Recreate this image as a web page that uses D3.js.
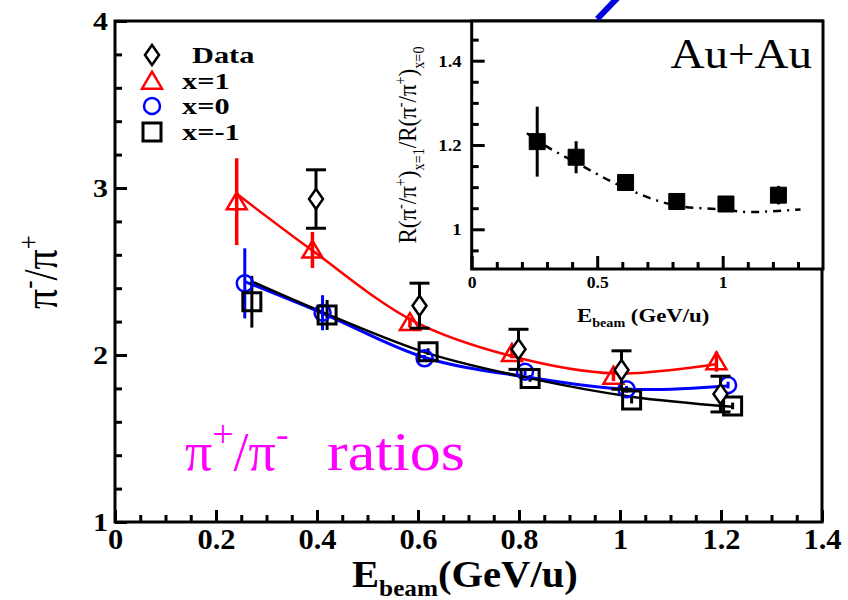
<!DOCTYPE html>
<html><head><meta charset="utf-8">
<script src="https://cdn.jsdelivr.net/npm/d3@7"></script>
<style>
body{margin:0;background:#fff}
svg{display:block}
text{font-family:"Liberation Serif","Times New Roman",serif}
</style>
</head><body><svg id="chart" width="848" height="600"></svg>
<script>
// ---- Main panel: pi-/pi+ ratio vs beam energy (GeV/u) ----
const dataE   = [0.398, 0.603, 0.799, 1.003, 1.199];
const dataR   = [2.934, 2.295, 2.034, 1.910, 1.766];
const dataErr = [0.175, 0.135, 0.120, 0.115, 0.107];

const x1E    = [0.241, 0.391, 0.584, 0.786, 0.987, 1.191];
const x1R    = [2.918, 2.629, 2.195, 2.010, 1.874, 1.960];
const x1Err  = [0.260, 0.108, 0.030, 0.030, 0.030, 0.060];
const x1FitE = [0.241, 0.391, 0.590, 0.790, 0.990, 1.190];
const x1FitR = [2.965, 2.625, 2.205, 1.990, 1.890, 1.945];

const x0E    = [0.257, 0.411, 0.613, 0.812, 1.013, 1.214];
const x0R    = [2.429, 2.253, 1.980, 1.900, 1.795, 1.820];
const x0Err  = [0.210, 0.105, 0.020, 0.020, 0.020, 0.020];
const x0FitR = [2.440, 2.250, 1.985, 1.870, 1.795, 1.815];

const xm1E    = [0.271, 0.420, 0.620, 0.822, 1.023, 1.223];
const xm1R    = [2.319, 2.240, 2.020, 1.860, 1.730, 1.695];
const xm1Err  = [0.155, 0.090, 0.020, 0.020, 0.020, 0.020];
const xm1FitR = [2.440, 2.245, 2.010, 1.860, 1.750, 1.690];

const legendNames = ["Data", "x=1", "x=0", "x=-1"];

const xTicks = [0, 0.2, 0.4, 0.6, 0.8, 1.0, 1.2, 1.4];
const xTickLabels = ["0", "0.2", "0.4", "0.6", "0.8", "1", "1.2", "1.4"];
const yTicks = [1, 2, 3, 4];
const yTickLabels = ["1", "2", "3", "4"];

// ---- Inset: double ratio R(x=1)/R(x=0) ----
const insetE   = [0.261, 0.416, 0.613, 0.817, 1.013, 1.222];
const insetR   = [1.208, 1.171, 1.111, 1.066, 1.060, 1.081];
const insetErr = [0.083, 0.038, 0.018, 0.020, 0.008, 0.022];
const insetFitE = [0.22, 0.30, 0.42, 0.60, 0.80, 1.00, 1.10, 1.20, 1.31];
const insetFitR = [1.228, 1.196, 1.157, 1.101, 1.058, 1.047, 1.041, 1.043, 1.047];

const insetXTicks = [0, 0.5, 1];
const insetXTickLabels = ["0", "0.5", "1"];
const insetYTicks = [1, 1.2, 1.4];
const insetYTickLabels = ["1", "1.2", "1.4"];

const range = (a, b, s) => d3.range(Math.round((b - a) / s) + 1).map(i => +(a + i * s).toFixed(4));

const svg = d3.select("#chart");
const RED = "#ff0000", BLUE = "#0000ff", BLACK = "#000", MAGENTA = "#ff00ff";

// scales
const x = d3.scaleLinear([0, 1.4], [115, 822]);
const y = d3.scaleLinear([1, 4], [522, 21]);
const xi = d3.scaleLinear([0, 1], [471.7, 722.7]);
const yi = d3.scaleLinear([1, 1.4], [229.3, 60.7]);

// rich text: parts = [[string, kind]] with kind undefined | "sup" | "sub"
function rich(t, parts, size, o) {
  let cur = 0;
  const supK = o.sup || 0.40, subK = o.sub || 0.30, small = o.small || 0.62;
  parts.forEach(([s, k]) => {
    const off = k === "sup" ? -supK * size : k === "sub" ? subK * size : 0;
    const fs = k ? size * small : size;
    t.append("tspan").attr("dy", off - cur).attr("font-size", fs).text(s);
    cur = off;
  });
  return t;
}
function label(g, px, py, parts, o) {
  const sx = o.sx || 1;
  const tr = `translate(${px},${py}) scale(${sx},1)` + (o.rotate ? " rotate(-90)" : "");
  const t = g.append("text").attr("transform", tr)
    .attr("font-size", o.size).attr("font-weight", o.weight || "normal")
    .attr("text-anchor", o.anchor || "start").attr("fill", o.fill || BLACK);
  return rich(t, parts, o.size, o);
}

// symbol shapes
const diamondType = { draw(ctx) { const w = 7, h = 10; ctx.moveTo(0, -h); ctx.lineTo(w, 0); ctx.lineTo(0, h); ctx.lineTo(-w, 0); ctx.closePath(); } };
const squareType = (a) => ({ draw(ctx) { ctx.rect(-a, -a, 2 * a, 2 * a); } });
const triType = { draw(ctx) { const w = 10, h = 17; ctx.moveTo(0, -h * 2 / 3 + 2); ctx.lineTo(w, h / 3 + 2); ctx.lineTo(-w, h / 3 + 2); ctx.closePath(); } };
const circleType = { draw(ctx) { ctx.moveTo(8, 0); ctx.arc(0, 0, 8, 0, 2 * Math.PI); } };

function axes(g, xs, ys, xt, xl, xminor, yt, yl, yminor, o) {
  const bx = d3.axisBottom(xs).tickValues(xt).tickFormat((d, i) => xl[i])
    .tickSizeInner(-o.major).tickSizeOuter(0).tickPadding(o.xpad);
  const gx = g.append("g").attr("transform", `translate(0,${o.bottom})`).call(bx);
  const bxm = d3.axisBottom(xs).tickValues(xminor).tickFormat("").tickSizeInner(-o.minor).tickSizeOuter(0);
  const gxm = g.append("g").attr("transform", `translate(0,${o.bottom})`).call(bxm);
  const ly = d3.axisLeft(ys).tickValues(yt).tickFormat((d, i) => yl[i])
    .tickSizeInner(-o.major).tickSizeOuter(0).tickPadding(o.ypad);
  const gy = g.append("g").attr("transform", `translate(${o.left},0)`).call(ly);
  const lym = d3.axisLeft(ys).tickValues(yminor).tickFormat("").tickSizeInner(-o.minor).tickSizeOuter(0);
  const gym = g.append("g").attr("transform", `translate(${o.left},0)`).call(lym);
  [gx, gxm, gy, gym].forEach(a => {
    a.select(".domain").remove();
    a.selectAll(".tick line").attr("stroke", BLACK).attr("stroke-width", o.tw);
  });
  gx.selectAll(".tick text").attr("font-size", o.xfs).attr("font-weight", "bold").attr("fill", BLACK)
    .attr("transform", `scale(${o.xsx},1)`);
  gy.selectAll(".tick text").attr("font-size", o.yfs).attr("font-weight", "bold").attr("fill", BLACK)
    .attr("x", -o.ypad / o.ysx).attr("transform", `scale(${o.ysx},1)`);
  g.append("rect").attr("x", o.left).attr("y", o.top).attr("width", o.right - o.left).attr("height", o.bottom - o.top)
    .attr("fill", "none").attr("stroke", BLACK).attr("stroke-width", 3);
}

// ---------- main panel ----------
const main = svg.append("g");
const lineGen = d3.line().curve(d3.curveCatmullRom.alpha(0.5));

function fitCurve(es, rs, color, w) {
  main.append("path").attr("d", lineGen(es.map((e, i) => [x(e), y(rs[i])])))
    .attr("fill", "none").attr("stroke", color).attr("stroke-width", w);
}
fitCurve(x1FitE, x1FitR, RED, 2.5);
fitCurve(x0E, x0FitR, BLUE, 3);
fitCurve(xm1E, xm1FitR, BLACK, 2.5);

function errBars(es, rs, errs, color, w, cap) {
  es.forEach((e, i) => {
    main.append("line").attr("x1", x(e)).attr("x2", x(e)).attr("y1", y(rs[i] - errs[i])).attr("y2", y(rs[i] + errs[i]))
      .attr("stroke", color).attr("stroke-width", w);
    if (cap) [rs[i] - errs[i], rs[i] + errs[i]].forEach(v =>
      main.append("line").attr("x1", x(e) - cap).attr("x2", x(e) + cap).attr("y1", y(v)).attr("y2", y(v))
        .attr("stroke", color).attr("stroke-width", 3));
  });
}
function markers(g, es, rs, sx, sy, type, color, fill, w) {
  g.selectAll(null).data(es).join("path")
    .attr("transform", (e, i) => `translate(${sx(e)},${sy(rs[i])})`)
    .attr("d", d3.symbol(type)())
    .attr("fill", fill).attr("stroke", color).attr("stroke-width", w);
}

errBars(x1E, x1R, x1Err, RED, 3.5, 0);
errBars(x0E, x0R, x0Err, BLUE, 3, 0);
errBars(xm1E, xm1R, xm1Err, BLACK, 3, 0);
markers(main, x1E, x1R, x, y, triType, RED, "none", 2.5);
markers(main, x0E, x0R, x, y, circleType, BLUE, "none", 2.5);
markers(main, xm1E, xm1R, x, y, squareType(9), BLACK, "none", 3);
errBars(dataE, dataR, dataErr, BLACK, 3, 10);
markers(main, dataE, dataR, x, y, diamondType, BLACK, "#fff", 2.5);

axes(main, x, y, xTicks, xTickLabels, range(0, 1.4, 0.05).filter(v => !xTicks.some(t => Math.abs(t - v) < 1e-6)),
  yTicks, yTickLabels, range(1, 4, 0.2).filter(v => !yTicks.some(t => Math.abs(t - v) < 1e-6)),
  { left: 115, right: 822, top: 21, bottom: 522, major: 12, minor: 7, tw: 3, xpad: 6, ypad: 7,
    xfs: 29, yfs: 25, xsx: 1.05, ysx: 1.2 });

// legend
const legG = main.append("g");
const legTypes = [[diamondType, BLACK, "#fff", 2.5], [triType, RED, "none", 2.5], [circleType, BLUE, "none", 2.5], [squareType(9), BLACK, "none", 3]];
const legY = [55, 81, 106, 132];
legendNames.forEach((n, i) => {
  const [tp, c, f, w] = legTypes[i];
  legG.append("path").attr("transform", `translate(152,${legY[i]})`).attr("d", d3.symbol(tp)())
    .attr("fill", f).attr("stroke", c).attr("stroke-width", w);
  label(legG, i === 0 ? 192 : 182, legY[i] + 8, [[n]], { size: 23, weight: "bold", sx: 1.32 });
});

// annotation text
label(main, 185, 470, [["π"], ["+", "sup"], ["/π"], ["-", "sup"]], { size: 54, fill: MAGENTA, sx: 1.0, small: 0.7, sup: 0.42 });
label(main, 327, 470, [["ratios"]], { size: 54, fill: MAGENTA, sx: 1.15 });

// axis titles
label(svg, 352, 587, [["E"], ["beam", "sub"], ["(GeV/u)"]], { size: 38, weight: "bold", sx: 1.07, sub: 0.24 });
label(svg, 57, 309, [["π"], ["-", "sup"], ["/π"], ["+", "sup"]], { size: 40, rotate: true, sx: 1.2 });

// ---------- inset ----------
const ins = svg.append("g");
ins.append("rect").attr("x", 471.7).attr("y", 21).attr("width", 823 - 471.7).attr("height", 269 - 21).attr("fill", "#fff");

ins.append("path").attr("d", lineGen(insetFitE.map((e, i) => [xi(e), yi(insetFitR[i])])))
  .attr("fill", "none").attr("stroke", BLACK).attr("stroke-width", 2.5).attr("stroke-dasharray", "8,6,2,6");
insetE.forEach((e, i) => {
  ins.append("line").attr("x1", xi(e)).attr("x2", xi(e)).attr("y1", yi(insetR[i] - insetErr[i])).attr("y2", yi(insetR[i] + insetErr[i]))
    .attr("stroke", BLACK).attr("stroke-width", 3);
});
markers(ins, insetE, insetR, xi, yi, squareType(8), BLACK, BLACK, 1);

axes(ins, xi, yi, insetXTicks, insetXTickLabels, range(0, 1.3, 0.1).filter(v => !insetXTicks.some(t => Math.abs(t - v) < 1e-6)),
  insetYTicks, insetYTickLabels, range(0.95, 1.45, 0.05).filter(v => !insetYTicks.some(t => Math.abs(t - v) < 1e-6)),
  { left: 471.7, right: 823, top: 21, bottom: 269, major: 13, minor: 7, tw: 3, xpad: 8, ypad: 10,
    xfs: 16, yfs: 17, xsx: 1.1, ysx: 1.1 });

label(ins, 812, 68, [["Au+Au"]], { size: 42, anchor: "end", sx: 1.12 });
label(svg, 577, 321.7, [["E"], ["beam", "sub"], [" (GeV/u)"]], { size: 19, weight: "bold", sx: 1.2 });
label(svg, 416, 145, [["R(π"], ["-", "sup"], ["/π"], ["+", "sup"], [")"], ["x=1", "sub"], ["/R(π"], ["-", "sup"], ["/π"], ["+", "sup"], [")"], ["x=0", "sub"]],
  { size: 23, rotate: true, anchor: "middle", sx: 1.1 });

// pointer stroke leaving the inset frame
svg.append("line").attr("x1", xi(0.5)).attr("y1", 19).attr("x2", xi(0.5) + 24).attr("y2", -6)
  .attr("stroke", "#0000dd").attr("stroke-width", 6);
</script>
</body></html>
